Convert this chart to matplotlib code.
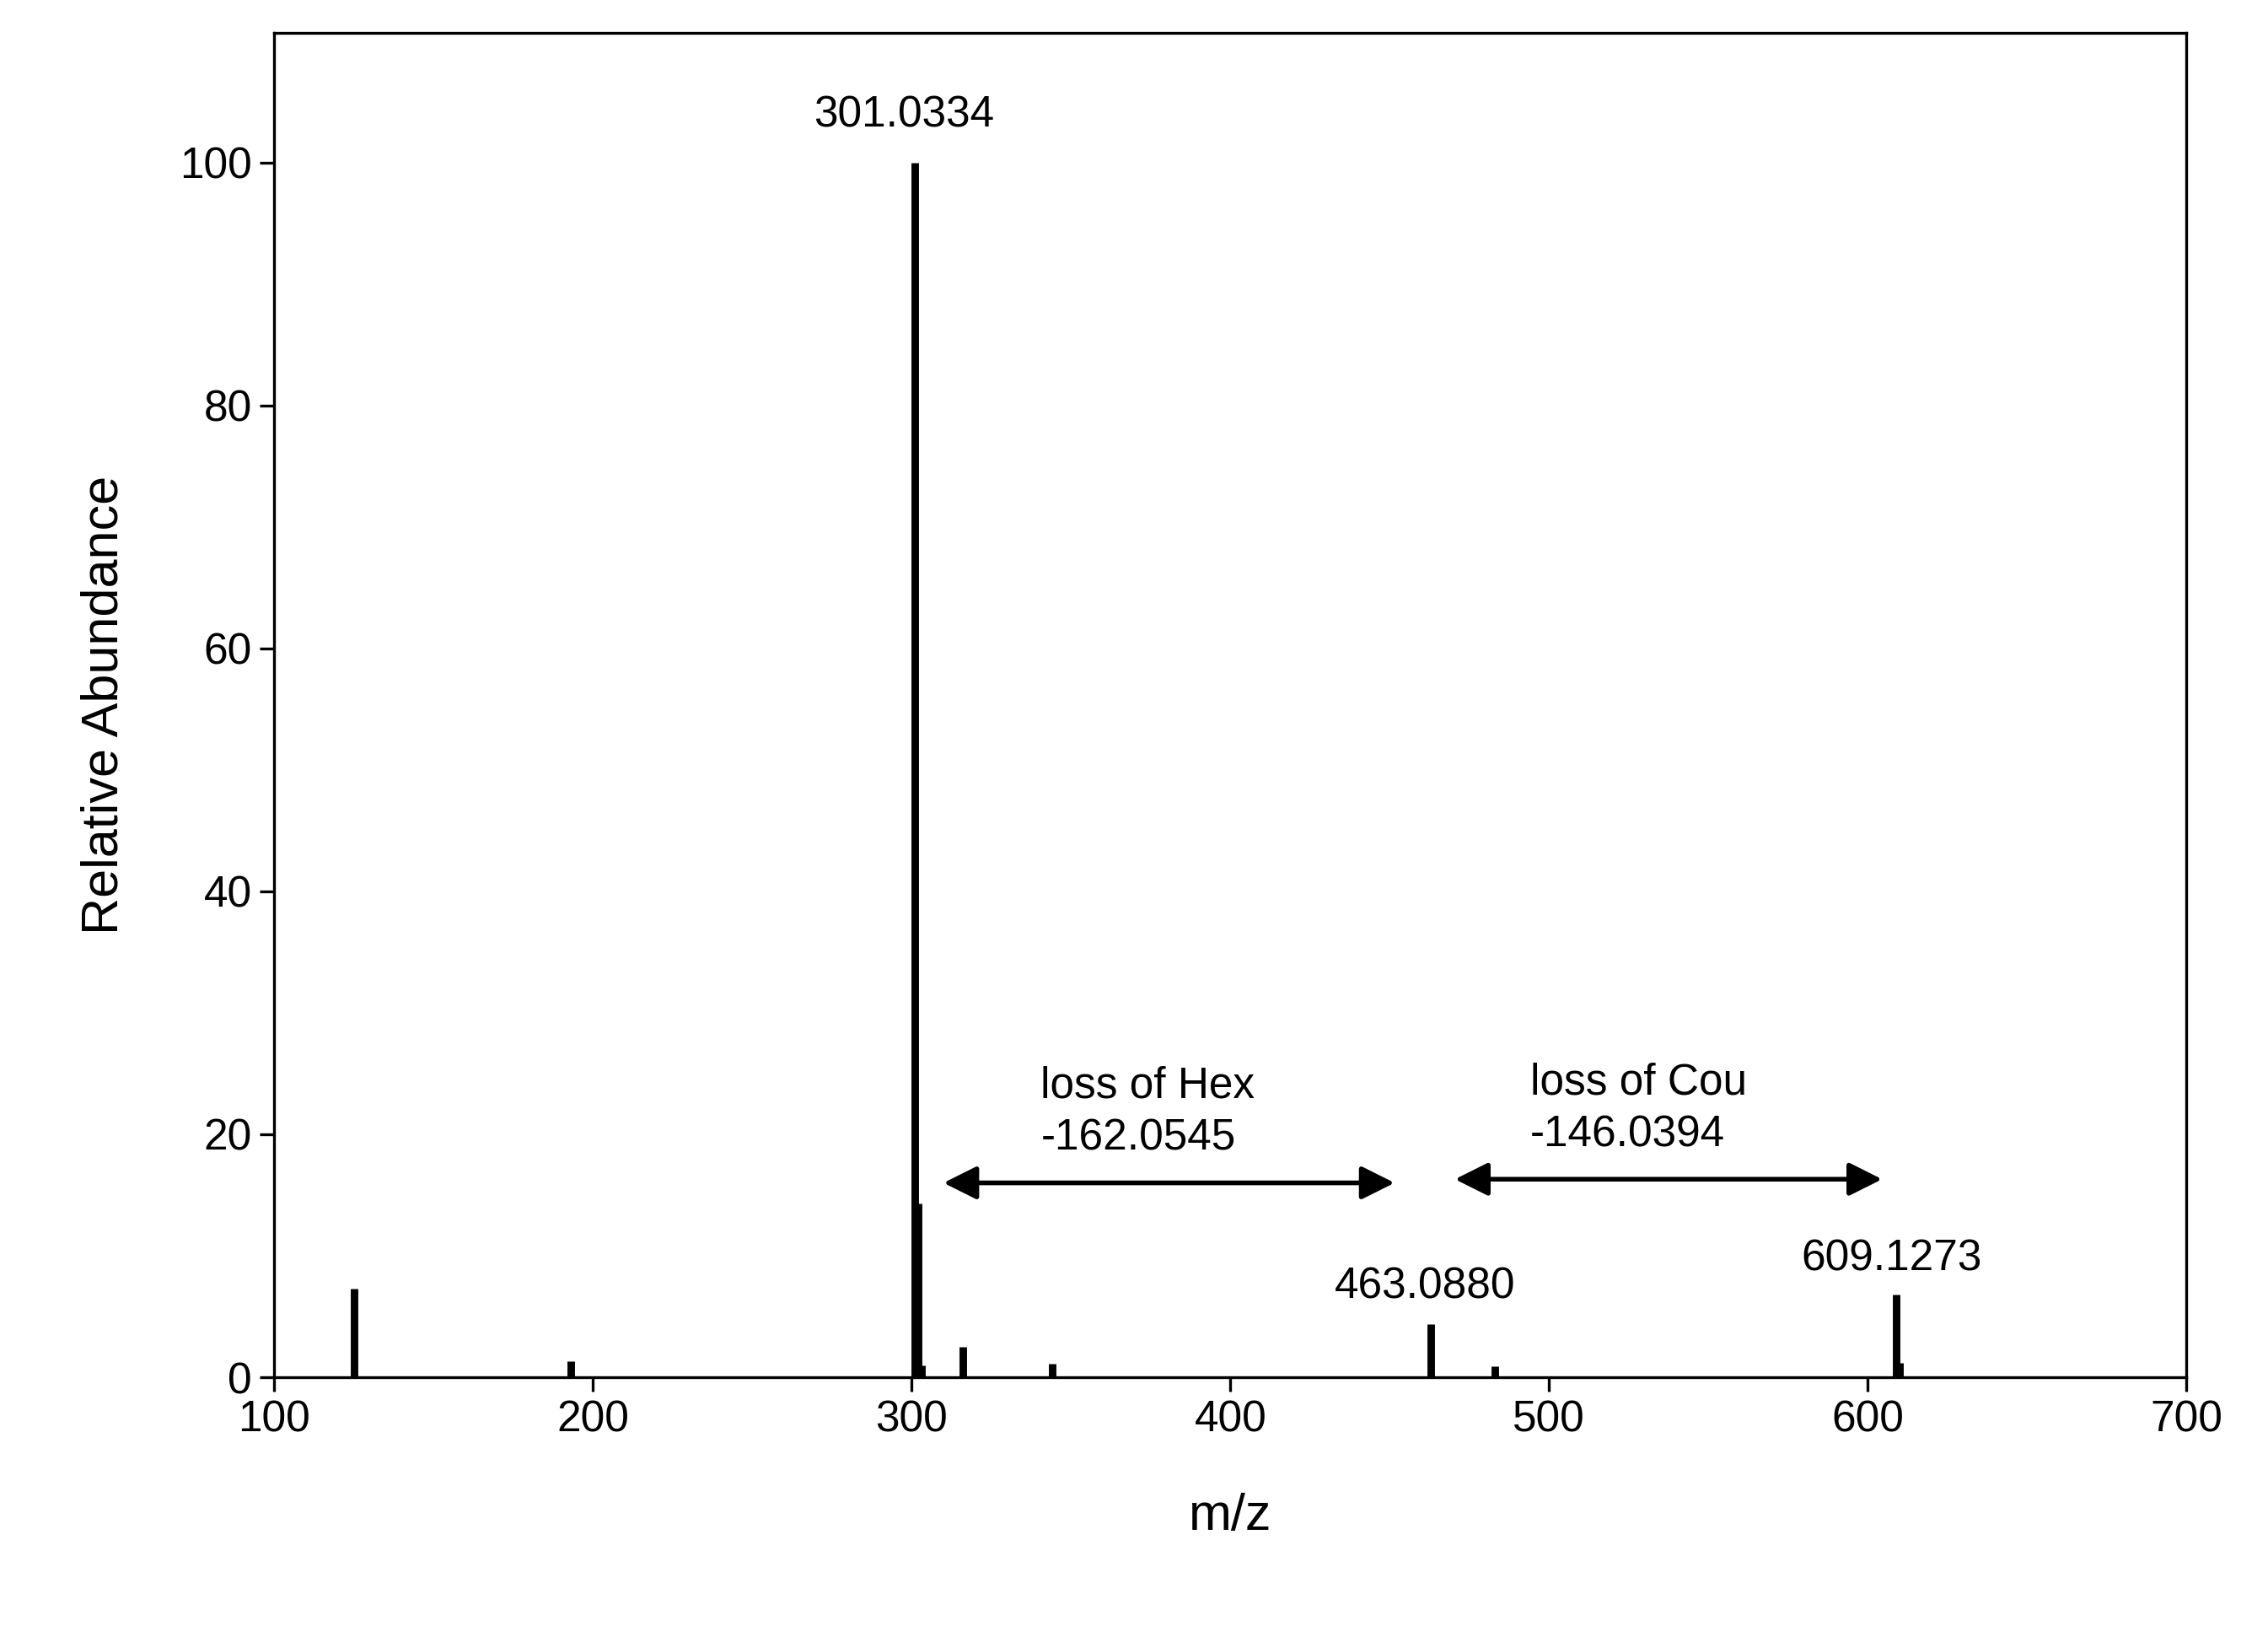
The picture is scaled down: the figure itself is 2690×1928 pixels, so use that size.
import matplotlib
matplotlib.use("Agg")
import matplotlib.pyplot as plt

plt.rcParams['font.family'] = ['Liberation Sans', 'DejaVu Sans']

# peak list
mz = [125, 193, 301, 302, 303, 316, 344, 463, 483, 609, 610]
abundance = [7.3, 1.3, 100, 14.3, 1.0, 2.5, 1.1, 4.4, 0.9, 6.8, 1.2]

peak_labels = ["301.0334", "463.0880", "609.1273"]
peak_label_x = [297.5, 461, 607.5]
peak_label_y = [102.9, 6.5, 8.8]

losses = ["loss of Hex\n-162.0545", "loss of Cou\n-146.0394"]
loss_text_x = [340.5, 494]
loss_text_y = [18.7, 19.0]
arrow_start = [308.5, 469]
arrow_end = [453, 606]
arrow_y = [16.0, 16.3]

fig = plt.figure(figsize=(13.45, 9.64), dpi=200)
ax = fig.add_axes([0.121, 0.153, 0.843, 0.827])

ax.vlines(mz, 0, abundance, color="black", linewidth=3.2)

for lab, x, y in zip(peak_labels, peak_label_x, peak_label_y):
    ax.text(x, y, lab, ha="center", va="baseline", fontsize=18.5)

for txt, x, y in zip(losses, loss_text_x, loss_text_y):
    ax.text(x, y, txt, ha="left", va="baseline", fontsize=18.5, linespacing=1.35)

for x0, x1, y in zip(arrow_start, arrow_end, arrow_y):
    ax.annotate("", xy=(x1, y), xytext=(x0, y),
                arrowprops=dict(arrowstyle="<|-|>", color="black", lw=2,
                                mutation_scale=30))

ax.set_xlim(100, 700)
ax.set_ylim(0, 110.7)
ax.set_xticks(range(100, 701, 100))
ax.set_yticks(range(0, 101, 20))
ax.tick_params(labelsize=18.5, direction="out", length=6, width=1.2)
for s in ax.spines.values():
    s.set_linewidth(1.2)
ax.set_xlabel("m/z", fontsize=22, labelpad=22)
ax.set_ylabel("Relative Abundance", fontsize=22, labelpad=22)

fig.savefig("out.png", dpi=200)
